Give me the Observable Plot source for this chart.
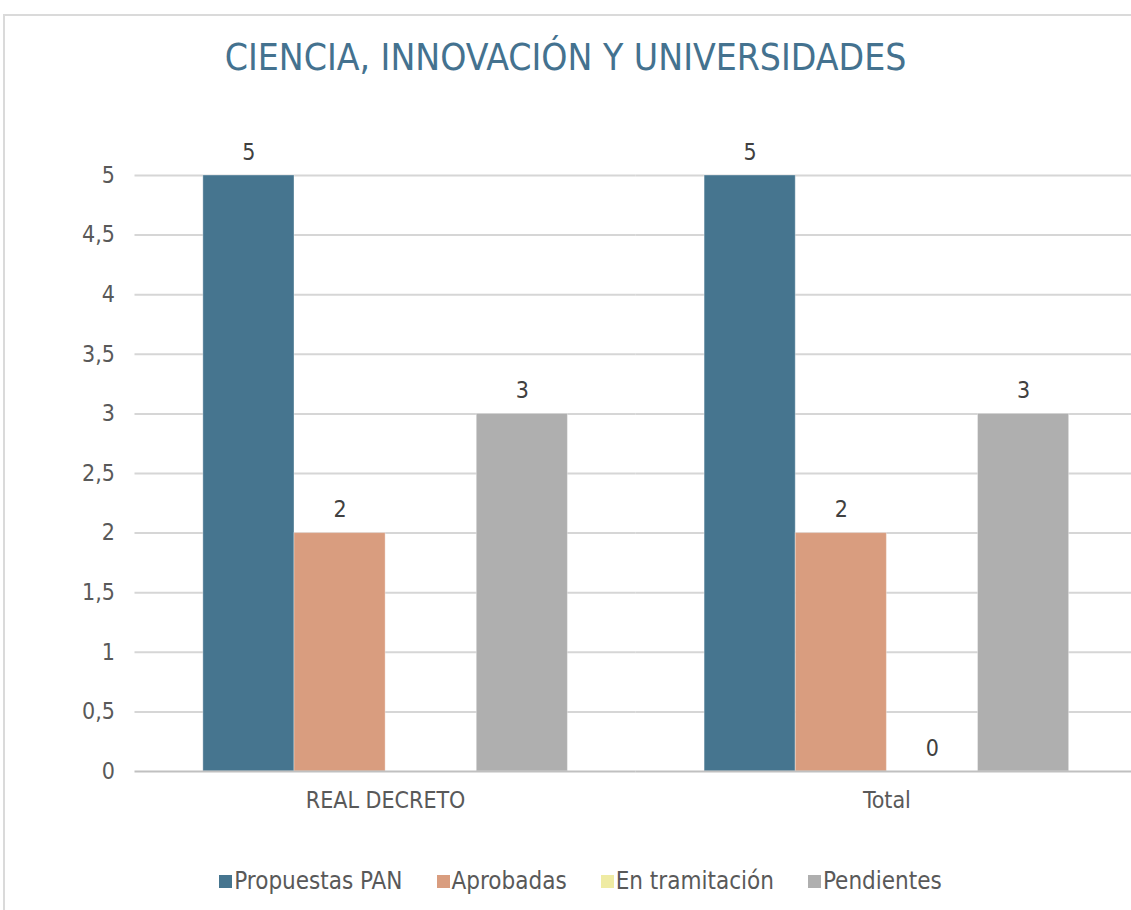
<!DOCTYPE html>
<html>
<head>
<meta charset="utf-8">
<script src="https://cdn.jsdelivr.net/npm/d3@7"></script>
<script src="https://cdn.jsdelivr.net/npm/@observablehq/plot@0.6"></script>
<style>
  html, body { margin: 0; padding: 0; background: #fff; overflow: hidden; width: 1131px; height: 910px; }
  body { font-family: "DejaVu Sans Condensed", "Liberation Sans Narrow", "DejaVu Sans", sans-serif; position: relative; }
  #frame { position: absolute; left: 3px; top: 14px; width: 1200px; height: 1000px; border-left: 2px solid #dadada; border-top: 2px solid #dadada; }
  #title { position: absolute; left: 0; top: 0; width: 1131px; height: 120px; text-align: center; font-size: 37px; line-height: 37px; padding-top: 39px; box-sizing: border-box; color: #44728f; }
  #chart { position: absolute; left: 0; top: 120px; width: 1131px; overflow: hidden; }
  #legend { position: absolute; left: 15px; top: 867px; width: 1131px; display: flex; justify-content: center; font-size: 24px; color: #595959; }
  .item { display: flex; align-items: center; margin: 0 17px; }
  .sw { width: 13px; height: 13px; margin-right: 2px; }
</style>
</head>
<body>
<div id="frame"></div>
<div id="title">CIENCIA, INNOVACIÓN Y UNIVERSIDADES</div>
<div id="chart"></div>
<div id="legend"></div>
<script>
const groups = ["REAL DECRETO", "Total"];
const series = ["Propuestas PAN", "Aprobadas", "En tramitación", "Pendientes"];
const propuestasPAN = [5, 5];
const aprobadas = [2, 2];
const enTramitacion = [null, 0];
const pendientes = [3, 3];
const yTicks = [0, 0.5, 1, 1.5, 2, 2.5, 3, 3.5, 4, 4.5, 5];
const colors = ["#46758f", "#d99d7f", "#efeba3", "#afafaf"];

const seriesValues = [propuestasPAN, aprobadas, enTramitacion, pendientes];
const data = [];
groups.forEach((g, i) => {
  series.forEach((s, j) => {
    data.push({ group: g, series: s, value: seriesValues[j][i] });
  });
});
const labelled = data.filter(d => d.value !== null);

const fmt = d => String(d).replace(".", ",");
const font = '"DejaVu Sans Condensed", "Liberation Sans Narrow", "DejaVu Sans", sans-serif';

const chart = Plot.plot({
  width: 1138,
  height: 712,
  marginLeft: 134.5,
  marginRight: 1,
  marginTop: 55,
  marginBottom: 61,
  style: { fontFamily: font, fontSize: "23px", color: "#595959", background: "transparent", maxWidth: "none" },
  fx: { domain: groups, padding: 0, round: false, label: null, axis: null },
  x: { domain: series, paddingInner: 0, paddingOuter: 0.75, round: false, axis: null },
  y: { domain: [0, 5], axis: null },
  color: { domain: series, range: colors },
  marks: [
    Plot.ruleY(yTicks.filter(d => d > 0), { stroke: "#d6d6d6", strokeWidth: 2 }),
    Plot.barY(labelled, { fx: "group", x: "series", y: "value", fill: "series", stroke: "#ffffff", strokeOpacity: 0.35, strokeWidth: 1, inset: 0 }),
    Plot.ruleY([0], { stroke: "#c0c0c0", strokeWidth: 2 }),
    Plot.axisY({ ticks: yTicks, tickSize: 0, tickPadding: 20, tickFormat: fmt, label: null, fontSize: 23 }),
    Plot.axisFx({ anchor: "bottom", tickSize: 0, tickPadding: 20, label: null, fontSize: 23 }),
    Plot.text(labelled, { fx: "group", x: "series", y: "value", text: d => fmt(d.value), dy: -23, fontSize: 23, fill: "#404040" })
  ]
});
document.getElementById("chart").appendChild(chart);

const legend = document.getElementById("legend");
series.forEach((s, j) => {
  const item = document.createElement("div");
  item.className = "item";
  const sw = document.createElement("span");
  sw.className = "sw";
  sw.style.background = colors[j];
  const t = document.createElement("span");
  t.textContent = s;
  item.appendChild(sw);
  item.appendChild(t);
  legend.appendChild(item);
});
</script>
</body>
</html>
